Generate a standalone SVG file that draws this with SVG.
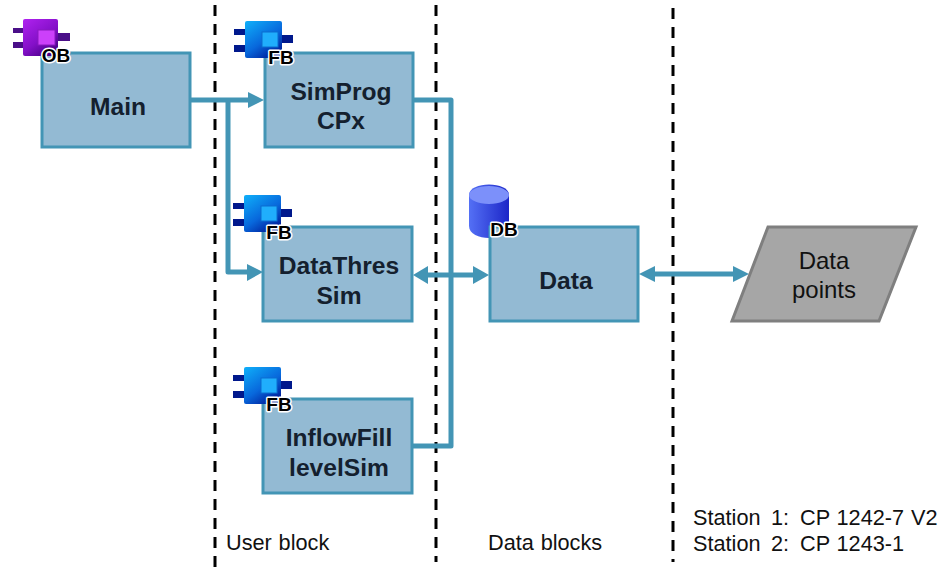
<svg xmlns="http://www.w3.org/2000/svg" width="947" height="568" viewBox="0 0 947 568">
<style>
text{font-family:"Liberation Sans",Arial,sans-serif;text-anchor:middle}
.box{fill:#93bad3;stroke:#4395b5;stroke-width:3}
.n{font-size:24.6px;font-weight:bold;fill:#14202e}
.l{font-size:21.7px;fill:#111;text-anchor:start;word-spacing:0.8px}
.d{font-size:24px;fill:#111}
.b{font-size:19px;font-weight:bold;fill:#000;stroke:#fff;stroke-width:3;paint-order:stroke;stroke-linejoin:round}
.div{stroke:#000;stroke-width:3;stroke-dasharray:11 8;fill:none}
.c{fill:none;stroke:#4395b5;stroke-width:5;stroke-linejoin:round}
.h{fill:#4395b5}
</style>
<defs>
<linearGradient id="gb" x1="0" y1="0" x2="0.7" y2="1"><stop offset="0" stop-color="#0fb0fa"/><stop offset="0.6" stop-color="#0868dc"/><stop offset="1" stop-color="#00209c"/></linearGradient>
<linearGradient id="gp" x1="0" y1="0" x2="0.7" y2="1"><stop offset="0" stop-color="#b022f0"/><stop offset="0.6" stop-color="#8410c8"/><stop offset="1" stop-color="#4a0088"/></linearGradient>
<linearGradient id="gd" x1="0" y1="0" x2="1" y2="0"><stop offset="0" stop-color="#5470f5"/><stop offset="1" stop-color="#1c26c8"/></linearGradient>
<g id="fb">
<rect x="0" y="8" width="11" height="6" fill="#00188c"/><rect x="0" y="24" width="11" height="7" fill="#00188c"/><rect x="48" y="14" width="11" height="8" fill="#00188c"/>
<rect x="11" y="0" width="37" height="37" rx="2" fill="url(#gb)"/><rect x="28" y="11" width="16" height="15" fill="#20aefc" stroke="#0a6cd0"/>
</g>
<g id="ob">
<rect x="0" y="9" width="10" height="5" fill="#4a0f88"/><rect x="0" y="23" width="10" height="6" fill="#4a0f88"/><rect x="45" y="14" width="12" height="8" fill="#4a0f88"/>
<rect x="10" y="0" width="35" height="37" rx="2" fill="url(#gp)"/><rect x="25" y="11" width="17" height="15" fill="#cc40fa" stroke="#8a18c0"/>
</g>
</defs>
<g id="dividers">
<path class="div" d="M215 5V568"/><path class="div" d="M436 5V562"/><path class="div" d="M673 8V562"/>
</g>
<g id="connectors">
<path class="c" d="M190 100H250"/><path class="h" d="M248 92L264 100L248 108Z"/>
<path class="c" d="M228 100V272H250"/><path class="h" d="M247 264L263 272L247 281Z"/>
<path class="c" d="M413 100H451V446H412"/>
<path class="c" d="M425 275H476"/><path class="h" d="M413 275L428 266V284Z"/><path class="h" d="M489 275L473 266V284Z"/>
<path class="c" d="M652 274H738"/><path class="h" d="M639 274L655 266V282Z"/><path class="h" d="M749 274L733 266V282Z"/>
</g>
<g id="main"><rect class="box" x="42" y="53" width="148" height="94"/><text class="n" x="118" y="115">Main</text><use href="#ob" x="13" y="19"/><text class="b" x="56" y="62">OB</text></g>
<g id="simprog"><rect class="box" x="265" y="53" width="148" height="94"/><text class="n" x="341" y="100">SimProg</text><text class="n" x="341" y="129">CPx</text><use href="#fb" x="234" y="21"/><text class="b" x="281" y="64">FB</text></g>
<g id="datathres"><rect class="box" x="263" y="227" width="149" height="94"/><text class="n" x="339" y="274">DataThres</text><text class="n" x="339" y="304">Sim</text><use href="#fb" x="233" y="195"/><text class="b" x="279" y="239">FB</text></g>
<g id="inflow"><rect class="box" x="263" y="399" width="149" height="94"/><text class="n" x="339" y="446">InflowFill</text><text class="n" x="339" y="476">levelSim</text><use href="#fb" x="233" y="367"/><text class="b" x="279" y="411">FB</text></g>
<g id="data"><path d="M469 195C469 181 509 181 509 195V226C509 242 469 242 469 226Z" fill="url(#gd)"/><ellipse cx="489" cy="195" rx="20" ry="9" fill="#7c90fa"/><rect class="box" x="490" y="227" width="148" height="94"/><text class="n" x="566" y="289">Data</text><text class="b" x="504" y="236">DB</text></g>
<g id="datapoints"><path d="M768 227H916L879 321H732Z" fill="#a6a6a6" stroke="#7f7f7f" stroke-width="3"/><text class="d" x="824" y="269">Data</text><text class="d" x="824" y="298">points</text></g>
<text class="l" x="226" y="550">User block</text>
<text class="l" x="488" y="550">Data blocks</text>
<text class="l" y="525"><tspan x="693">Station</tspan><tspan x="771">1:</tspan><tspan x="800">CP 1242-7 V2</tspan></text>
<text class="l" y="551"><tspan x="693">Station</tspan><tspan x="771">2:</tspan><tspan x="800">CP 1243-1</tspan></text>
</svg>
